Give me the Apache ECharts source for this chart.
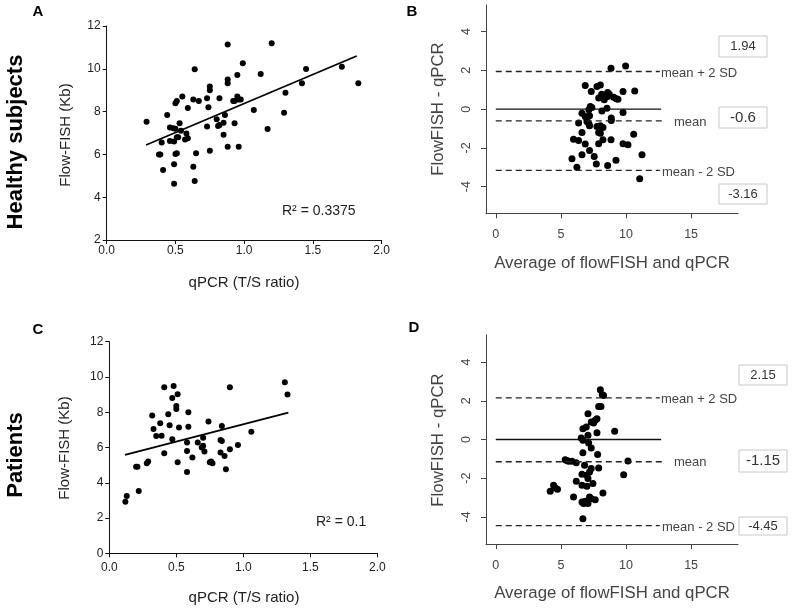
<!DOCTYPE html>
<html><head><meta charset="utf-8">
<script src="https://cdn.jsdelivr.net/npm/echarts@6/dist/echarts.min.js"></script>
<style>html,body{margin:0;padding:0;background:#fff}#c{width:792px;height:609px}</style>
</head><body><div id="c"></div>
<script>
// ---------- DATA ----------
// Panel A: healthy subjects, qPCR (T/S ratio) vs Flow-FISH (Kb)
const healthyQpcrFlow = [
 [0.29,7.53],[0.40,6.56],[0.38,6.0],[0.39,6.0],[0.41,5.27],[0.44,7.84],[0.46,7.26],[0.46,6.63],[0.485,7.22],[0.49,6.6],
 [0.49,5.54],[0.49,4.63],[0.50,8.39],[0.51,8.5],[0.50,6.02],[0.51,6.05],[0.51,6.8],[0.52,6.8],[0.53,7.45],[0.54,7.1],
 [0.55,8.71],[0.58,6.98],[0.57,6.7],[0.59,6.75],[0.59,8.17],[0.63,8.57],[0.63,5.42],[0.64,9.98],[0.64,4.76],[0.65,6.05],
 [0.67,8.5],[0.73,8.62],[0.73,7.3],[0.74,8.2],[0.75,9.17],[0.75,9.0],[0.75,6.17],[0.80,7.64],[0.81,7.33],[0.82,8.62],
 [0.82,7.37],[0.85,7.48],[0.85,6.92],[0.86,7.84],[0.88,11.14],[0.88,9.5],[0.88,9.32],[0.88,6.36],[0.92,8.5],[0.93,7.45],
 [0.93,8.5],[0.95,9.71],[0.95,8.7],[0.96,8.57],[0.975,8.57],[0.96,6.36],[0.99,10.26],[1.07,8.07],[1.12,9.76],[1.17,7.19],
 [1.20,11.19],[1.29,7.95],[1.30,8.88],[1.42,9.32],[1.45,9.99],[1.71,10.1],[1.83,9.32],[0.50,7.2]
];
const healthyFitX = [0.286, 1.818];
const healthyFitY = [6.44, 10.6];
const healthyR2 = 'R² = 0.3375';

// Panel C: patients
const patientQpcrFlow = [
 [0.12,2.93],[0.13,3.25],[0.22,3.53],[0.20,4.91],[0.21,4.91],[0.28,5.1],[0.29,5.2],[0.32,7.81],[0.33,7.05],[0.35,6.65],
 [0.38,7.37],[0.39,6.67],[0.41,9.41],[0.41,5.67],[0.44,7.88],[0.45,7.26],[0.47,8.81],[0.47,6.47],[0.48,9.49],[0.50,8.36],
 [0.50,8.19],[0.51,9.02],[0.51,5.16],[0.52,7.13],[0.58,6.28],[0.58,5.8],[0.58,4.61],[0.59,8.0],[0.59,7.18],[0.62,5.43],
 [0.66,6.28],[0.69,6.0],[0.70,6.1],[0.70,6.56],[0.71,5.77],[0.74,7.47],[0.75,5.16],[0.76,5.2],[0.77,5.1],[0.83,5.71],
 [0.83,6.43],[0.84,6.37],[0.84,7.22],[0.86,5.52],[0.87,4.76],[0.90,9.41],[0.90,5.9],[0.96,6.14],[1.06,6.9],[1.31,9.7],[1.33,9.0]
];
const patientFitX = [0.117, 1.336];
const patientFitY = [5.58, 7.98];
const patientR2 = 'R² = 0.1';

// Panel B: Bland-Altman, healthy subjects (average, difference)
const healthyBland = [
 [8.85,2.11],[9.97,2.23],[6.87,1.22],[7.33,0.91],[7.77,1.17],[8.03,1.25],[8.13,0.77],[7.9,0.57],[8.33,0.48],[8.59,0.86],
 [8.72,0.77],[8.59,0.65],[9.05,0.62],[9.26,0.53],[9.38,0.51],[9.77,0.91],[10.67,0.94],[8.54,0.05],[7.26,0.14],[7.38,0.09],
 [7.15,-0.03],[8.15,-0.09],[9.77,-0.17],[6.62,-0.21],[6.87,-0.38],[7.0,-0.48],[7.2,-0.34],[8.87,-0.46],[8.87,-0.58],[7.0,-0.64],
 [7.15,-0.76],[6.36,-0.72],[7.2,-0.86],[7.77,-0.89],[8.03,-0.86],[8.23,-0.94],[7.9,-1.2],[8.03,-1.24],[6.62,-1.2],[10.59,-1.29],
 [5.97,-1.55],[6.36,-1.61],[7.9,-1.79],[8.23,-1.58],[8.85,-1.58],[6.87,-1.8],[9.77,-1.79],[10.15,-1.84],[7.2,-2.13],[5.85,-2.56],
 [6.62,-2.35],[7.56,-2.44],[11.23,-2.35],[9.23,-2.63],[6.23,-3.0],[7.72,-2.83],[8.59,-2.9],[11.05,-3.59]
];
const healthyLimits = [1.94, -0.6, -3.16];
const healthyLimitText = ['1.94', '-0.6', '-3.16'];

// Panel D: Bland-Altman, patients
const patientBland = [
 [8.03,2.57],[8.18,2.31],[8.28,2.28],[7.9,1.71],[8.08,1.71],[7.08,1.33],[7.77,1.07],[7.64,0.99],[7.33,0.9],[7.51,0.85],
 [6.95,0.65],[6.69,0.56],[9.13,0.42],[7.77,0.35],[7.08,0.22],[6.56,0.08],[6.69,-0.04],[7.13,-0.18],[7.33,-0.44],[6.69,-0.68],
 [7.82,-0.78],[5.33,-1.04],[5.46,-1.09],[5.59,-1.13],[5.85,-1.13],[6.18,-1.2],[10.15,-1.11],[6.82,-1.33],[7.9,-1.47],[7.33,-1.5],
 [7.2,-1.68],[7.0,-1.85],[9.82,-1.82],[6.62,-1.8],[7.08,-2.02],[6.18,-2.16],[7.46,-2.28],[6.62,-2.37],[7.0,-2.42],[4.44,-2.37],
 [4.56,-2.49],[4.18,-2.68],[4.74,-2.57],[8.23,-2.77],[5.97,-2.97],[7.2,-2.97],[7.33,-3.06],[7.64,-3.11],[6.62,-3.23],[6.74,-3.31],
 [6.87,-3.19],[7.08,-3.31],[6.69,-4.09]
];
const patientLimits = [2.15, -1.15, -4.45];
const patientLimitText = ['2.15', '-1.15', '-4.45'];

const limitNames = ['mean + 2 SD', 'mean', 'mean - 2 SD'];
const limitLineStartX = [0, 0, 0];
const limitLineEndX = [12.6, 13.0, 12.6];
const zeroLineX = [0, 12.7];
const blandTicksX = [0, 5, 10, 15];
const blandTicksY = [-4, -2, 0, 2, 4];
const rowTitles = ['Healthy subjects', 'Patients'];
const panelLetters = ['A', 'B', 'C', 'D'];

// ---------- CHART ----------
const F = '"Liberation Sans", Arial, sans-serif';
const chart = echarts.init(document.getElementById('c'));

function gpX(grid, margin){
  return {gridIndex:grid, type:'value', min:0, max:2, interval:0.5,
    axisLine:{onZero:false, lineStyle:{color:'#111', width:1}},
    axisTick:{length:4, lineStyle:{color:'#111'}},
    axisLabel:{margin:margin, fontSize:12, color:'#222', fontFamily:F, formatter:v=>v.toFixed(1)},
    splitLine:{show:false}};
}
function gpY(grid, min){
  return {gridIndex:grid, type:'value', min:min, max:12, interval:2,
    axisLine:{onZero:false, lineStyle:{color:'#111', width:1}},
    axisTick:{length:4, lineStyle:{color:'#111'}},
    axisLabel:{margin:6, fontSize:12, color:'#222', fontFamily:F},
    splitLine:{show:false}};
}
function rX(grid){
  return {gridIndex:grid, type:'value', min:-0.75, max:18.6,
    axisLine:{onZero:false, lineStyle:{color:'#444', width:1}},
    axisTick:{length:5, lineStyle:{color:'#444'}, customValues:blandTicksX},
    axisLabel:{margin:15, fontSize:12.5, color:'#444', fontFamily:F, customValues:blandTicksX},
    splitLine:{show:false}};
}
function rY(grid, lim){
  return {gridIndex:grid, type:'value', min:-lim, max:lim,
    axisLine:{onZero:false, lineStyle:{color:'#444', width:1}},
    axisTick:{length:5, lineStyle:{color:'#444'}, customValues:blandTicksY},
    axisLabel:{margin:13, fontSize:12.5, color:'#444', fontFamily:F, rotate:90, customValues:blandTicksY},
    splitLine:{show:false}};
}

function scatter(idx, data, size){
  return {type:'scatter', xAxisIndex:idx, yAxisIndex:idx, data:data, symbolSize:size,
    itemStyle:{color:'#000', opacity:1}, silent:true};
}
function line(idx, xs, ys, style){
  return {type:'line', xAxisIndex:idx, yAxisIndex:idx, data:xs.map((x,i)=>[x, ys[i]]),
    showSymbol:false, silent:true, lineStyle:style};
}
function blandLines(idx, limits){
  const out = [line(idx, zeroLineX, [0,0], {color:'#111', width:1.4, type:'solid'})];
  limits.forEach((v,i)=>{
    out.push(line(idx, [limitLineStartX[i], limitLineEndX[i]], [v, v], {color:'#222', width:1.3, type:[6,4]}));
  });
  return out;
}

function txt(x, y, s, font, color, align, rot){
  return {type:'text', x:x, y:y, rotation:rot||0, silent:true,
    style:{text:s, font:font, fill:color||'#222', align:align||'center', verticalAlign:'middle'}};
}
function box(x, y, w, h, s, size){
  return [{type:'rect', shape:{x:x, y:y, width:w, height:h}, silent:true,
           style:{fill:'#fff', stroke:'#c8c8c8', lineWidth:1}},
          txt(x + w/2, y + h/2, s, size + 'px ' + F, '#333', 'center')];
}

const graphics = [
  txt(16, 142, rowTitles[0], 'bold 22px ' + F, '#000', 'center', Math.PI/2),
  txt(16, 455, rowTitles[1], 'bold 22px ' + F, '#000', 'center', Math.PI/2),
  txt(38, 12, panelLetters[0], 'bold 15px ' + F, '#000'),
  txt(412, 12, panelLetters[1], 'bold 15px ' + F, '#000'),
  txt(38, 330, panelLetters[2], 'bold 15px ' + F, '#000'),
  txt(414, 328, panelLetters[3], 'bold 15px ' + F, '#000'),
  // axis titles
  txt(66, 135, 'Flow-FISH (Kb)', '15px ' + F, '#222', 'center', Math.PI/2),
  txt(244, 283, 'qPCR (T/S ratio)', '15px ' + F, '#222'),
  txt(65, 448, 'Flow-FISH (Kb)', '15px ' + F, '#222', 'center', Math.PI/2),
  txt(244, 598, 'qPCR (T/S ratio)', '15px ' + F, '#222'),
  txt(438, 109, 'FlowFISH - qPCR', '16.8px ' + F, '#444', 'center', Math.PI/2),
  txt(612, 263, 'Average of flowFISH and qPCR', '16.8px ' + F, '#444'),
  txt(438, 440, 'FlowFISH - qPCR', '16.8px ' + F, '#444', 'center', Math.PI/2),
  txt(612, 593, 'Average of flowFISH and qPCR', '16.8px ' + F, '#444'),
  // R² annotations
  txt(282, 211, healthyR2, '14px ' + F, '#222', 'left'),
  txt(316, 522, patientR2, '14px ' + F, '#222', 'left'),
  // limit names
  txt(661, 73, limitNames[0], '13px ' + F, '#444', 'left'),
  txt(674, 122, limitNames[1], '13px ' + F, '#444', 'left'),
  txt(662, 172, limitNames[2], '13px ' + F, '#444', 'left'),
  txt(661, 399, limitNames[0], '13px ' + F, '#444', 'left'),
  txt(674, 462, limitNames[1], '13px ' + F, '#444', 'left'),
  txt(662, 527, limitNames[2], '13px ' + F, '#444', 'left'),
  ...box(719, 36, 48, 21, healthyLimitText[0], 13),
  ...box(719, 107, 48, 21, healthyLimitText[1], 15),
  ...box(719, 184, 48, 20, healthyLimitText[2], 13),
  ...box(739, 365, 48, 20, patientLimitText[0], 13),
  ...box(739, 450, 48, 22, patientLimitText[1], 15),
  ...box(739, 517, 48, 18, patientLimitText[2], 13)
];

chart.setOption({
  animation:false,
  backgroundColor:'#fff',
  grid:[
    {left:106.7, top:26, width:275, height:214},
    {left:486, top:5, width:252, height:208.3},
    {left:109.3, top:341.7, width:268, height:211.6},
    {left:486, top:335, width:252, height:209}
  ],
  xAxis:[gpX(0, 5), rX(1), gpX(2, 8), rX(3)],
  yAxis:[gpY(0, 2), rY(1, 5.37), gpY(2, 0), rY(3, 5.4)],
  series:[
    scatter(0, healthyQpcrFlow, 6),
    line(0, healthyFitX, healthyFitY, {color:'#000', width:1.8}),
    scatter(2, patientQpcrFlow, 6),
    line(2, patientFitX, patientFitY, {color:'#000', width:1.8}),
    ...blandLines(1, healthyLimits),
    scatter(1, healthyBland, 7),
    ...blandLines(3, patientLimits),
    scatter(3, patientBland, 7)
  ],
  graphic:graphics
});
</script>
</body></html>
